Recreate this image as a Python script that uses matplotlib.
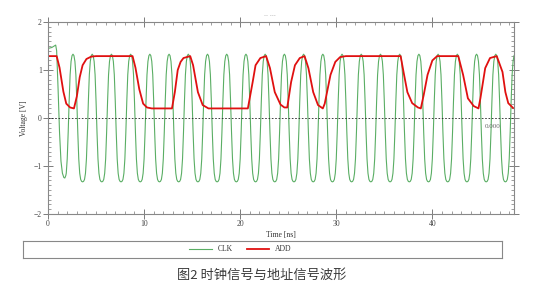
import matplotlib
matplotlib.use("Agg")
import matplotlib.pyplot as plt
from matplotlib.ticker import MultipleLocator
import numpy as np

# clock: first partial cycle, then one cycle shape repeated at each peak
clk_head_t = [0.0, 0.4, 0.8, 0.9, 1.05, 1.2, 1.35, 1.5, 1.65, 1.75, 1.85]
clk_head_v = [1.45, 1.47, 1.52, 1.4, 0.6, -0.3, -0.9, -1.15, -1.24, -1.25, -1.2]
clk_cycle_dt = [-0.9, -0.8, -0.7, -0.6, -0.5, -0.4, -0.3, -0.2, -0.1,
                0.0, 0.1, 0.2, 0.3, 0.4, 0.5, 0.6, 0.7, 0.8, 0.9, 1.0]
clk_cycle_v = [-1.32, -1.28, -1.15, -0.85, -0.3, 0.35, 0.9, 1.18, 1.3,
               1.33, 1.3, 1.18, 0.9, 0.35, -0.3, -0.85, -1.15, -1.28, -1.32, -1.33]
clk_peaks = [2.6, 4.6, 6.6, 8.6, 10.6, 12.6, 14.6, 16.6, 18.6, 20.6, 22.6, 24.6,
             26.6, 28.6, 30.6, 32.6, 34.6, 36.6, 38.6, 40.6, 42.6, 44.6, 46.6, 48.6]

# address line keypoints
add_t = [0.0, 0.9, 1.2, 1.6, 1.9, 2.3, 2.7, 3.0, 3.3, 3.6, 4.0, 4.5, 5.0,
         8.8, 9.1, 9.5, 9.9, 10.3, 10.8,
         12.9, 13.2, 13.5, 13.8, 14.1, 14.8, 15.1, 15.6, 16.1, 16.7,
         20.8, 21.3, 21.6, 22.1, 22.7, 23.1, 23.6, 24.2, 24.6, 24.9,
         25.3, 25.7, 26.2, 26.7, 27.1, 27.6, 28.1, 28.6,
         28.8, 29.4, 29.9, 30.4, 31.0,
         36.7, 37.0, 37.4, 37.9, 38.5, 38.8,
         39.1, 39.5, 40.0, 40.5,
         42.7, 43.2, 43.7, 44.3, 44.8,
         45.0, 45.5, 46.0, 46.7, 47.3, 47.6, 47.9, 48.4]
add_v = [1.29, 1.29, 1.05, 0.55, 0.3, 0.22, 0.2, 0.45, 0.85, 1.1, 1.23, 1.28, 1.29,
         1.29, 1.05, 0.6, 0.3, 0.22, 0.2,
         0.2, 0.54, 1.0, 1.17, 1.25, 1.29, 1.1, 0.54, 0.27, 0.2,
         0.2, 0.75, 1.1, 1.25, 1.29, 1.04, 0.54, 0.28, 0.22, 0.22,
         0.75, 1.1, 1.25, 1.29, 1.04, 0.54, 0.27, 0.2,
         0.3, 0.9, 1.17, 1.27, 1.29,
         1.29, 0.96, 0.54, 0.31, 0.22, 0.2,
         0.48, 0.9, 1.2, 1.29,
         1.29, 0.9, 0.41, 0.25, 0.2,
         0.41, 1.04, 1.25, 1.29, 0.96, 0.54, 0.31, 0.21]

# build clock trace from head + shifted cycles
clk_t = list(clk_head_t)
clk_v = list(clk_head_v)
for p in clk_peaks:
    for dt, v in zip(clk_cycle_dt, clk_cycle_v):
        t = p + dt
        if t > clk_t[-1] and t <= 48.6:
            clk_t.append(t)
            clk_v.append(v)

serif = "Liberation Serif"
fig = plt.figure(figsize=(5.4, 2.9), dpi=100)
ax = fig.add_axes([0.0889, 0.262, 0.863, 0.662])

ax.plot(clk_t, clk_v, color="#5aae64", linewidth=0.8)
ax.plot(add_t, add_v, color="#e01010", linewidth=1.3)
ax.axhline(0, color="#222222", linestyle=(0, (2, 2)), linewidth=0.6)

ax.set_xlim(0, 48.5)
ax.set_ylim(-2, 2)
ax.xaxis.set_major_locator(MultipleLocator(10))
ax.xaxis.set_minor_locator(MultipleLocator(1))
ax.yaxis.set_major_locator(MultipleLocator(1))
ax.yaxis.set_minor_locator(MultipleLocator(0.1))
ax.tick_params(which="major", direction="inout", length=7, width=0.6,
               color="#666666", top=True, right=True, labelsize=5.5,
               labelcolor="#444444", pad=1)
ax.tick_params(which="minor", direction="in", length=2.5, width=0.5,
               color="#777777", top=True, right=True)
for lab in ax.get_xticklabels() + ax.get_yticklabels():
    lab.set_family(serif)
for s in ax.spines.values():
    s.set_color("#888888")
    s.set_linewidth(0.8)

ax.set_xlabel("Time [ns]", fontsize=5.5, family=serif, color="#333333", labelpad=2)
ax.set_ylabel("Voltage [V]", fontsize=5.5, family=serif, color="#333333", labelpad=4)
ax.text(45.5, -0.2, "0.000", fontsize=5, family=serif, color="#666666")
fig.text(0.5, 0.94, "-- ---", fontsize=4, color="#aaaaaa", ha="center")

# legend box below the axes
lax = fig.add_axes([23 / 540, 1 - 258 / 290, 479 / 540, 17 / 290])
lax.set_xlim(0, 540)
lax.set_ylim(0, 1)
lax.set_xticks([])
lax.set_yticks([])
for s in lax.spines.values():
    s.set_color("#888888")
    s.set_linewidth(0.8)
lax.plot([187, 213], [0.55, 0.55], color="#5aae64", linewidth=0.8)
lax.text(220, 0.55, "CLK", fontsize=5.5, family=serif, va="center", color="#333333")
lax.plot([252, 277], [0.55, 0.55], color="#e01010", linewidth=1.3)
lax.text(284, 0.55, "ADD", fontsize=5.5, family=serif, va="center", color="#333333")

fig.text(0.485, 1 - 275 / 290, "图2 时钟信号与地址信号波形", fontsize=9.5,
         family=["Noto Sans CJK SC", "DejaVu Sans"], color="#3a3a3a",
         ha="center", va="center")

fig.savefig("out.png", dpi=100)
